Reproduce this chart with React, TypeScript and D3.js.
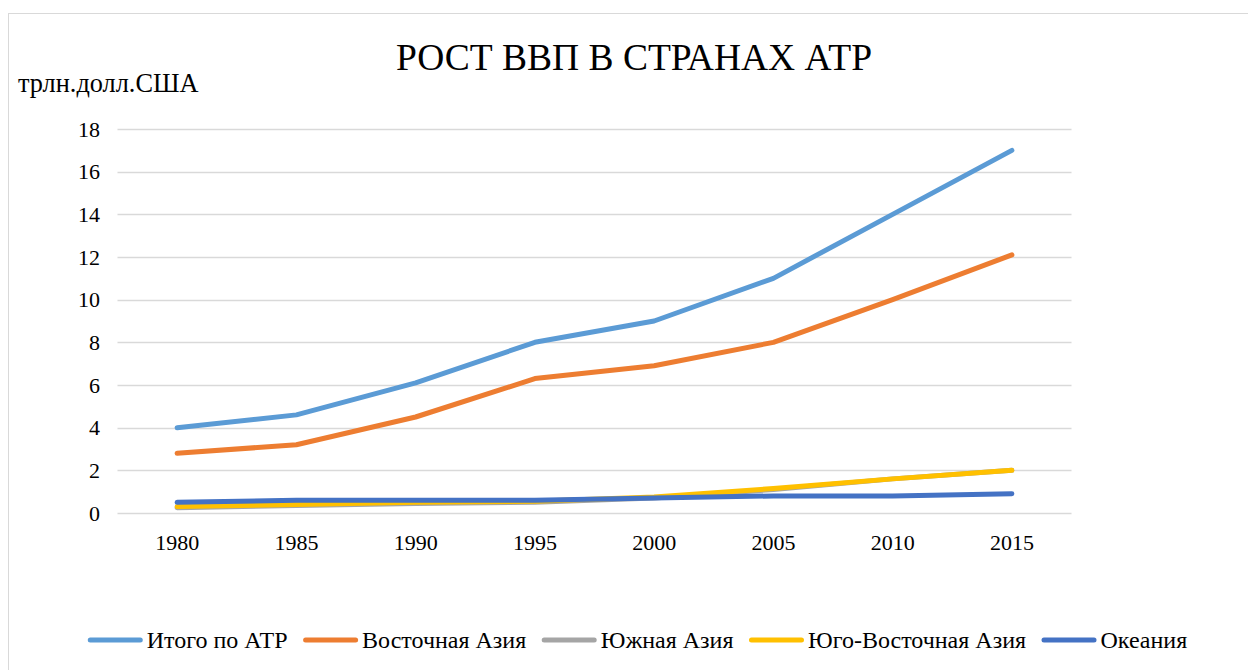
import React, { useEffect, useRef } from 'react';
import * as d3 from 'd3';

const years = ['1980', '1985', '1990', '1995', '2000', '2005', '2010', '2015'];
const seriesNames = ['Итого по АТР', 'Восточная Азия', 'Южная Азия', 'Юго-Восточная Азия', 'Океания'];
const totalApr = [4, 4.6, 6.1, 8, 9, 11, 14, 17];
const eastAsia = [2.8, 3.2, 4.5, 6.3, 6.9, 8, 10, 12.1];
const southAsia = [0.25, 0.35, 0.45, 0.5, 0.7, 1.1, 1.6, 2.0];
const southEastAsia = [0.3, 0.4, 0.5, 0.55, 0.75, 1.15, 1.6, 2.0];
const oceania = [0.5, 0.6, 0.6, 0.6, 0.7, 0.8, 0.8, 0.9];
const yTicks = [0, 2, 4, 6, 8, 10, 12, 14, 16, 18];
const colors = ['#5b9bd5', '#ed7d31', '#a5a5a5', '#ffc000', '#4472c4'];

const allSeries = [totalApr, eastAsia, southAsia, southEastAsia, oceania];

const FONT = "'Liberation Serif', 'Times New Roman', serif";

const App = () => {
  const legendRef = useRef<SVGGElement>(null);

  const x = d3.scalePoint<string>().domain(years).range([117.5, 1071.5]).padding(0.5);
  const y = d3.scaleLinear().domain([0, 18]).range([513, 129]);
  const line = d3.line<number>()
    .x((d, i) => x(years[i]) as number)
    .y(d => y(d));

  // legend laid out by measured text widths
  useEffect(() => {
    const g = d3.select(legendRef.current);
    g.selectAll('*').remove();
    const items = g.selectAll('g.item')
      .data(seriesNames)
      .join('g')
      .attr('class', 'item');
    items.append('line')
      .attr('x1', 2.5).attr('x2', 52.5)
      .attr('y1', 0).attr('y2', 0)
      .attr('stroke', (d, i) => colors[i])
      .attr('stroke-width', 5)
      .attr('stroke-linecap', 'round');
    items.append('text')
      .attr('x', 59)
      .attr('y', 8)
      .style('font-family', FONT)
      .attr('font-size', 24)
      .attr('fill', '#000')
      .text(d => d);
    let cx = 0;
    const gap = 15.5;
    items.each(function () {
      const node = this as SVGGElement;
      const w = (d3.select(node).select('text').node() as SVGTextElement).getComputedTextLength();
      d3.select(node).attr('transform', `translate(${cx},0)`);
      cx += 59 + w + gap;
    });
    const total = cx - gap;
    g.attr('transform', `translate(${637.5 - total / 2},640)`);
  }, []);

  return (
    <svg width={1248} height={670} style={{ position: 'absolute', left: 0, top: 0, fontFamily: FONT }}>
      <rect x={8.5} y={13.5} width={1260} height={700} fill="#fff" stroke="#d9d9d9" strokeWidth={1} />
      <text x={634} y={70} textAnchor="middle" fontSize={37.5} fill="#000">
        РОСТ ВВП В СТРАНАХ АТР
      </text>
      <text x={18} y={92} fontSize={26.3} fill="#000">трлн.долл.США</text>

      {/* gridlines */}
      {yTicks.map(t => (
        <line key={t} x1={117.5} x2={1071.5} y1={Math.round(y(t)) + 0.5} y2={Math.round(y(t)) + 0.5}
          stroke="#d9d9d9" strokeWidth={1.5} />
      ))}
      {yTicks.map(t => (
        <text key={'l' + t} x={100} y={y(t) + 7.5} textAnchor="end" fontSize={22} fill="#000">{t}</text>
      ))}
      {years.map(yr => (
        <text key={yr} x={x(yr)} y={550} textAnchor="middle" fontSize={22} fill="#000">{yr}</text>
      ))}

      {allSeries.map((s, i) => (
        <path key={i} d={line(s) || ''} fill="none" stroke={colors[i]} strokeWidth={5}
          strokeLinecap="round" strokeLinejoin="round" />
      ))}

      <g ref={legendRef} />
    </svg>
  );
};

export default App;
